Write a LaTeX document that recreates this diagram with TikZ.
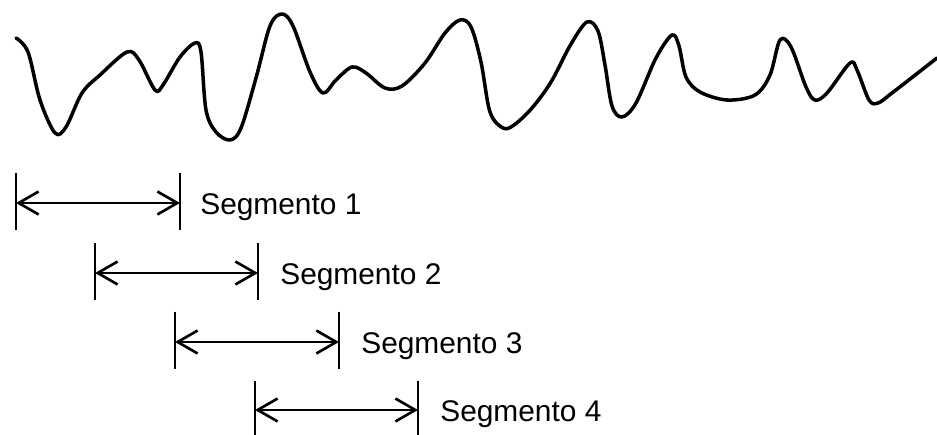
\documentclass[tikz,border=0pt]{standalone}
\usepackage{fontspec}
\setmainfont{Liberation Sans}
\usetikzlibrary{arrows.meta,positioning}
\tikzset{
  wave/.style={line width=2pt,line join=round,line cap=round},
  tickmark/.style={line width=1.5pt},
  span/.style={{Straight Barb[length=4mm,width=4.6mm]}-{Straight Barb[length=4mm,width=4.6mm]},line width=1.5pt},
  seglabel/.style={inner sep=0pt,font=\fontsize{17}{20}\selectfont,yshift=-0.08cm}
}

\begin{document}
\begin{tikzpicture}[x=0.02cm,y=-0.02cm]
\useasboundingbox (0,0) rectangle (937,435);

% signal
\draw[wave] plot[smooth,tension=0.55] coordinates {
  (16,38) (28,52) (40,100) (55,133) (66,127) (82,93) (100,75) (127,52)
  (139,60) (155,90) (163,85) (180,57) (195,43) (201,52) (206,110) (216,132)
  (230,140) (241,128) (256,78) (270,26) (282,14) (293,26) (310,72) (323,93)
  (336,80) (352,67) (366,73) (385,88) (402,86) (425,63) (445,33) (460,20)
  (471,27) (481,62) (490,112) (503,128) (514,125) (532,108) (551,82) (571,44)
  (587,22) (598,31) (605,65) (612,106) (622,117) (636,103) (656,58) (672,35)
  (679,46) (686,77) (700,92) (727,100) (755,95) (770,75) (780,40) (791,47)
  (806,87) (815,100) (827,93) (850,63) (857,70) (869,100) (878,103) (892,93)
  (937,58)
};

% segments
\coordinate (s1l) at (16,203);  \coordinate (s1r) at (180,203);
\coordinate (s2l) at (95,273);  \coordinate (s2r) at (258,273);
\coordinate (s3l) at (175,342); \coordinate (s3r) at (339,342);
\coordinate (s4l) at (255,410); \coordinate (s4r) at (418,410);

\draw[tickmark] (s1l) ++(0,-30) -- ++(0,57);
\draw[tickmark] (s1r) ++(0,-30) -- ++(0,57);
\draw[tickmark] (s2l) ++(0,-30) -- ++(0,57);
\draw[tickmark] (s2r) ++(0,-30) -- ++(0,57);
\draw[tickmark] (s3l) ++(0,-30) -- ++(0,57);
\draw[tickmark] (s3r) ++(0,-30) -- ++(0,57);
\draw[tickmark] (s4l) ++(0,-29) -- ++(0,57);
\draw[tickmark] (s4r) ++(0,-29) -- ++(0,57);

\draw[span] (s1l) -- (s1r);
\draw[span] (s2l) -- (s2r);
\draw[span] (s3l) -- (s3r);
\draw[span] (s4l) -- (s4r);

\node[seglabel,right=4mm of s1r] (lab1) {Segmento 1};
\node[seglabel,right=4.4mm of s2r] (lab2) {Segmento 2};
\node[seglabel,right=4.4mm of s3r] (lab3) {Segmento 3};
\node[seglabel,right=4.4mm of s4r] (lab4) {Segmento 4};

\end{tikzpicture}
\end{document}
